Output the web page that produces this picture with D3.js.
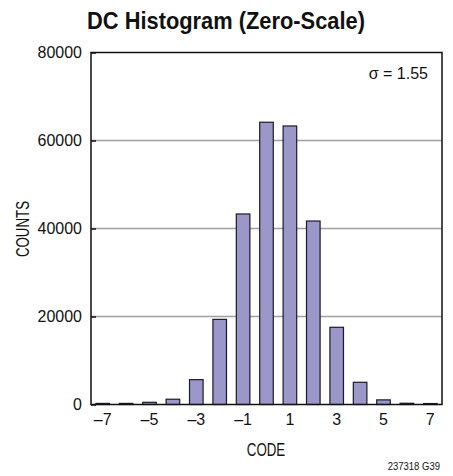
<!DOCTYPE html>
<html>
<head>
<meta charset="utf-8">
<script src="https://cdn.jsdelivr.net/npm/d3@7"></script>
<style>
  html, body { margin: 0; padding: 0; background: #fff; }
  svg text { font-family: "Liberation Sans", Arial, sans-serif; fill: #111; }
</style>
</head>
<body>
<svg id="chart" width="453" height="476"></svg>
<script>
// Histogram of output codes at zero-scale input
const codes = [-7, -6, -5, -4, -3, -2, -1, 0, 1, 2, 3, 4, 5, 6, 7];
const counts = [250, 250, 500, 1200, 5650, 19350, 43300, 64150, 63300, 41700, 17550, 5050, 1050, 280, 220];
const yTicks = [0, 20000, 40000, 60000, 80000];
const xTickCodes = [-7, -5, -3, -1, 1, 3, 5, 7];

const svg = d3.select("#chart");
const plotLeft = 91, plotRight = 442, plotTop = 52.5, plotBottom = 404.5;

const x = d3.scaleBand().domain(codes).range([plotLeft, plotRight]).paddingInner(0.42).paddingOuter(0.21);
const y = d3.scaleLinear().domain([0, 80000]).range([plotBottom, plotTop]);

const fmtCode = d => (d < 0 ? "\u2013" + Math.abs(d) : String(d));

// narrow text helper: horizontally condensed label placed at (tx, ty)
function label(tx, ty, txt, size, sx, opts = {}) {
  const t = svg.append("text")
    .attr("transform", `translate(${tx},${ty})${opts.rotate ? " rotate(" + opts.rotate + ")" : ""} scale(${sx},1)`)
    .attr("text-anchor", opts.anchor || "middle")
    .attr("font-size", size)
    .text(txt);
  if (opts.bold) t.attr("font-weight", "bold");
  return t;
}

// gridlines
svg.append("g").selectAll("line").data(yTicks.filter(t => t > 0 && t < 80000)).join("line")
  .attr("x1", plotLeft).attr("x2", plotRight)
  .attr("y1", d => y(d)).attr("y2", d => y(d))
  .attr("stroke", "#a0a0a0").attr("stroke-width", 1.5);

// bars
svg.append("g").selectAll("rect").data(codes).join("rect")
  .attr("x", d => x(d))
  .attr("width", x.bandwidth())
  .attr("y", (d, i) => y(counts[i]))
  .attr("height", (d, i) => plotBottom - y(counts[i]))
  .attr("fill", "#9b97c9")
  .attr("stroke", "#1a1a2a")
  .attr("stroke-width", 1.2);

// plot frame
svg.append("rect")
  .attr("x", plotLeft).attr("y", plotTop)
  .attr("width", plotRight - plotLeft).attr("height", plotBottom - plotTop)
  .attr("fill", "none").attr("stroke", "#111").attr("stroke-width", 1.5);

// y axis
const yAxis = d3.axisLeft(y).tickValues(yTicks).tickSizeInner(-5).tickSizeOuter(0).tickPadding(9).tickFormat(d3.format("d"));
const gy = svg.append("g").attr("transform", `translate(${plotLeft},0)`).call(yAxis);
gy.select(".domain").remove();
gy.selectAll(".tick line").attr("stroke", "#111").attr("stroke-width", 1.5);
gy.selectAll(".tick text").attr("font-size", 17).attr("fill", "#111")
  .attr("transform", "translate(-9,0) scale(0.94,1)").attr("x", 0)
  .style("font-family", '"Liberation Sans", Arial, sans-serif');

// x axis
const xAxis = d3.axisBottom(x).tickValues(xTickCodes).tickSize(0).tickPadding(8).tickFormat(fmtCode);
const gx = svg.append("g").attr("transform", `translate(0,${plotBottom})`).call(xAxis);
gx.select(".domain").remove();
gx.selectAll(".tick text").attr("font-size", 17).attr("fill", "#111")
  .attr("transform", "scale(0.94,1)")
  .style("font-family", '"Liberation Sans", Arial, sans-serif');

// title
label(226, 29, "DC Histogram (Zero-Scale)", 23, 0.95, { bold: true });

// axis titles
label(266, 456, "CODE", 18, 0.74);
label(29, 229, "COUNTS", 18, 0.74, { rotate: -90 });

// sigma annotation
label(428, 79, "\u03C3 = 1.55", 16.5, 0.97, { anchor: "end" });

// figure id
label(440, 470, "237318 G39", 10, 0.95, { anchor: "end" });
</script>
</body>
</html>
